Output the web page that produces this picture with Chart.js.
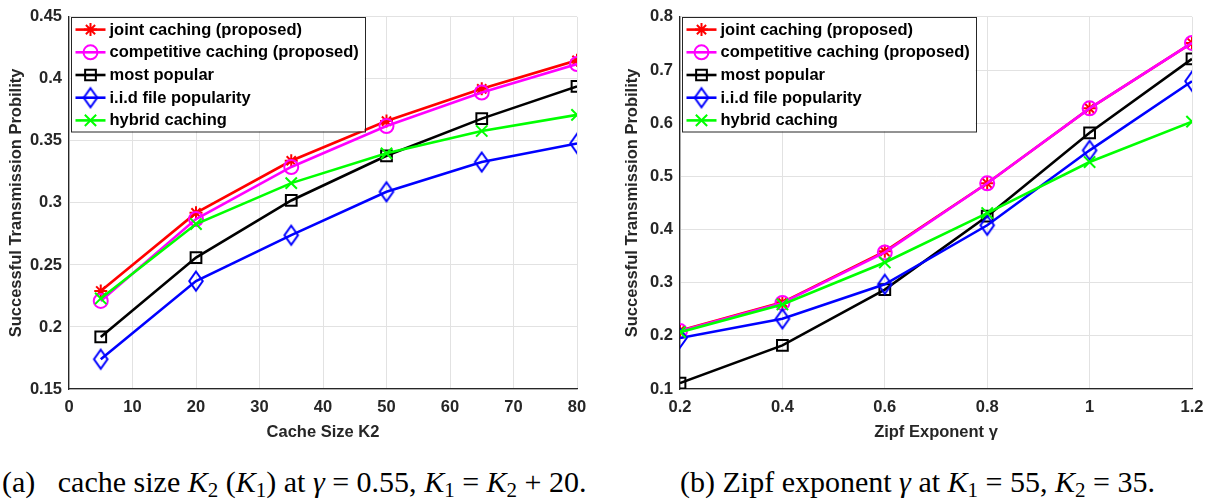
<!DOCTYPE html>
<html><head><meta charset="utf-8">
<script src="https://cdn.jsdelivr.net/npm/chart.js@4"></script>
<style>
html,body{margin:0;padding:0;background:#fff;}
body{width:1215px;height:502px;overflow:hidden;position:relative;font-family:"Liberation Serif","Times New Roman",serif;}
#ca{position:absolute;left:0;top:0;}
#cb{position:absolute;left:607px;top:0;}
.cap{position:absolute;top:465px;font-size:30px;line-height:34px;white-space:nowrap;color:#000;}
.cap sub{font-size:0.7em;vertical-align:-0.25em;line-height:0;}
</style></head><body>
<canvas id="ca" width="607" height="445"></canvas>
<canvas id="cb" width="608" height="445"></canvas>
<div class="cap" id="capA" style="left:2px;">(a)&nbsp;&nbsp; cache size <i>K</i><sub>2</sub> (<i>K</i><sub>1</sub>) at <i>γ</i> = 0.55, <i>K</i><sub>1</sub> = <i>K</i><sub>2</sub> + 20.</div>
<div class="cap" id="capB" style="left:680px;">(b) Zipf exponent <i>γ</i> at <i>K</i><sub>1</sub> = 55, <i>K</i><sub>2</sub> = 35.</div>
<script>
// ---- data ----
const seriesNames = ['joint caching (proposed)', 'competitive caching (proposed)', 'most popular', 'i.i.d file popularity', 'hybrid caching'];

const cacheSizes = [5, 20, 35, 50, 65, 80];
const jointA = [0.229, 0.292, 0.334, 0.366, 0.392, 0.415];
const competitiveA = [0.221, 0.287, 0.329, 0.362, 0.389, 0.412];
const popularA = [0.192, 0.256, 0.302, 0.338, 0.368, 0.394];
const iidA = [0.174, 0.237, 0.274, 0.309, 0.333, 0.348];
const hybridA = [0.223, 0.283, 0.316, 0.340, 0.358, 0.371];

const zipfExponents = [0.2, 0.4, 0.6, 0.8, 1.0, 1.2];
const jointB = [0.210, 0.263, 0.359, 0.487, 0.628, 0.751];
const competitiveB = [0.209, 0.262, 0.357, 0.487, 0.628, 0.751];
const popularB = [0.111, 0.182, 0.287, 0.425, 0.582, 0.721];
const iidB = [0.196, 0.232, 0.297, 0.408, 0.549, 0.679];
const hybridB = [0.207, 0.259, 0.338, 0.431, 0.527, 0.603];

const xTicksA = [0, 10, 20, 30, 40, 50, 60, 70, 80];
const yTicksA = [0.15, 0.2, 0.25, 0.3, 0.35, 0.4, 0.45];
const xTicksB = [0.2, 0.4, 0.6, 0.8, 1, 1.2];
const yTicksB = [0.1, 0.2, 0.3, 0.4, 0.5, 0.6, 0.7, 0.8];

const xTitleA = 'Cache Size K2';
const xTitleB = 'Zipf Exponent \u03B3';
const yTitle = 'Successful Transmission Probility';

// ---- styles ----
function diamondCanvas(color) {
  const c = document.createElement('canvas');
  c.width = 18; c.height = 24;
  const g = c.getContext('2d');
  g.strokeStyle = color; g.lineWidth = 2;
  g.beginPath();
  g.moveTo(9, 2.5); g.lineTo(15.75, 12); g.lineTo(9, 21.5); g.lineTo(2.25, 12);
  g.closePath(); g.stroke();
  return c;
}
const seriesStyles = [
  {color: '#ff0000', pointStyle: 'star', radius: 6.5},
  {color: '#ff00ff', pointStyle: 'circle', radius: 7},
  {color: '#000000', pointStyle: 'rect', radius: 7.6},
  {color: '#0000ff', pointStyle: diamondCanvas('#0000ff'), radius: 8},
  {color: '#00ff00', pointStyle: 'crossRot', radius: 8}
];

const FONT = '"Liberation Sans", Arial, sans-serif';
const AXC = '#262626';
const fmt = v => String(Number(Number(v).toFixed(4)));

function makeDatasets(xs, seriesList) {
  return seriesList.map((vals, i) => ({
    label: seriesNames[i],
    data: xs.map((x, j) => ({x: x, y: vals[j]})),
    borderColor: seriesStyles[i].color,
    backgroundColor: seriesStyles[i].color,
    borderWidth: 2.6,
    pointStyle: seriesStyles[i].pointStyle,
    pointRadius: seriesStyles[i].radius,
    pointHoverRadius: seriesStyles[i].radius,
    pointBorderWidth: 2,
    pointBorderColor: seriesStyles[i].color,
    pointBackgroundColor: 'rgba(0,0,0,0)',
    tension: 0,
    order: seriesList.length - i
  }));
}

const boxLegend = {
  id: 'boxLegend',
  afterDraw(chart) {
    const {ctx, chartArea} = chart;
    const ds = chart.data.datasets;
    const left = chartArea.left + 1.5, top = chartArea.top;
    const w = 294, rowH = 22.7, h = 114.5;
    ctx.save();
    ctx.fillStyle = '#ffffff';
    ctx.fillRect(left, top, w, h);
    ctx.strokeStyle = AXC; ctx.lineWidth = 1;
    ctx.strokeRect(Math.round(left) + 0.5, Math.round(top) + 0.5, w, h);
    ds.forEach((d, i) => {
      const y = top + 12.7 + i * rowH;
      ctx.strokeStyle = d.borderColor; ctx.lineWidth = d.borderWidth;
      ctx.beginPath(); ctx.moveTo(left + 5, y); ctx.lineTo(left + 35, y); ctx.stroke();
      ctx.fillStyle = 'rgba(0,0,0,0)';
      ctx.strokeStyle = d.pointBorderColor; ctx.lineWidth = d.pointBorderWidth;
      Chart.helpers.drawPoint(ctx, {pointStyle: d.pointStyle, radius: d.pointRadius, borderWidth: d.pointBorderWidth, rotation: 0}, left + 20, y);
      ctx.fillStyle = '#000000';
      ctx.font = 'bold 16.5px ' + FONT;
      ctx.textBaseline = 'middle'; ctx.textAlign = 'left';
      ctx.fillText(d.label, left + 39, y + 0.5);
    });
    ctx.restore();
  }
};

function makeScales(xt, yt, xTitle, yWidth, yTitlePad) {
  const tickFont = {family: FONT, weight: 'bold', size: 16.5};
  return {
    x: {
      type: 'linear', min: xt[0], max: xt[xt.length - 1],
      afterBuildTicks: s => { s.ticks = xt.map(v => ({value: v})); },
      afterFit: s => { s.height = 56; },
      grid: {color: '#e2e2e2', lineWidth: 1, drawTicks: false},
      border: {color: AXC, width: 1.3},
      ticks: {padding: 9, color: AXC, font: tickFont, callback: v => fmt(v), maxRotation: 0, autoSkip: false},
      title: {display: true, text: xTitle, color: AXC, font: tickFont, padding: {top: 0, bottom: 3}}
    },
    y: {
      type: 'linear', min: yt[0], max: yt[yt.length - 1],
      afterBuildTicks: s => { s.ticks = yt.map(v => ({value: v})); },
      afterFit: s => { s.width = yWidth; },
      grid: {color: '#e2e2e2', lineWidth: 1, drawTicks: false},
      border: {color: AXC, width: 1.3},
      ticks: {padding: 7, color: AXC, font: tickFont, callback: v => fmt(v), autoSkip: false},
      title: {display: true, text: yTitle, color: AXC, font: tickFont, padding: {top: yTitlePad, bottom: 0}}
    }
  };
}

function makeChart(id, xs, seriesList, xt, yt, xTitle, yWidth, padRight, yTitlePad) {
  return new Chart(document.getElementById(id), {
    type: 'line',
    data: {datasets: makeDatasets(xs, seriesList)},
    options: {
      responsive: false, animation: false,
      layout: {padding: {left: 0, top: 14, right: padRight, bottom: 0}},
      plugins: {legend: {display: false}, tooltip: {enabled: false}},
      scales: makeScales(xt, yt, xTitle, yWidth, yTitlePad)
    },
    plugins: [boxLegend]
  });
}

makeChart('ca', cacheSizes, [jointA, competitiveA, popularA, iidA, hybridA], xTicksA, yTicksA, xTitleA, 69, 30, 7);
makeChart('cb', zipfExponents, [jointB, competitiveB, popularB, iidB, hybridB], xTicksB, yTicksB, xTitleB, 73, 23, 16);
</script>
</body></html>
